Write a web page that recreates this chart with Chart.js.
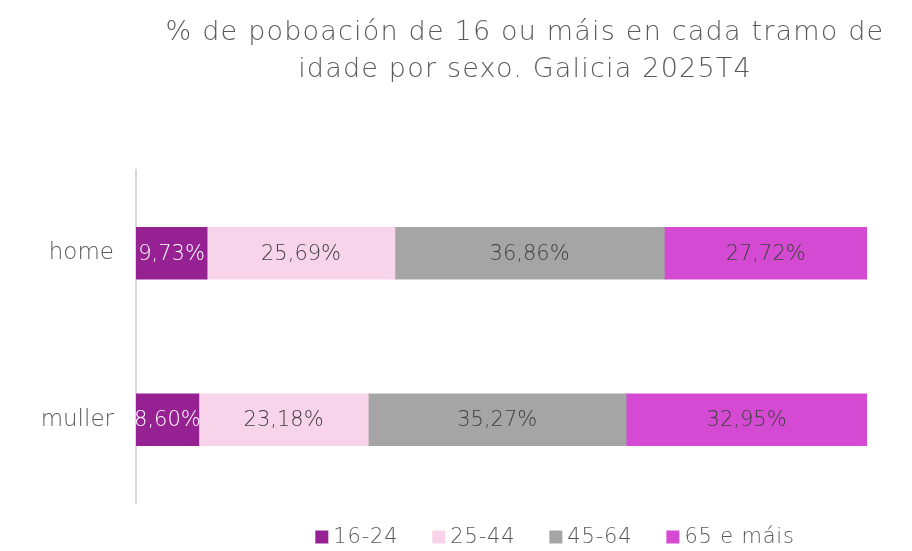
<!DOCTYPE html>
<html>
<head>
<meta charset="utf-8">
<script src="https://cdn.jsdelivr.net/npm/chart.js@4/dist/chart.umd.min.js"></script>
<style>
  html, body { margin: 0; padding: 0; background: #fff; }
  #wrap { width: 912px; height: 551px; }
</style>
</head>
<body>
<div id="wrap"><canvas id="chart" width="912" height="551"></canvas></div>
<script>
// Data
const categories = ['home', 'muller'];
const seriesNames = ['16-24', '25-44', '45-64', '65 e máis'];
const values1624 = [9.73, 8.60];
const values2544 = [25.69, 23.18];
const values4564 = [36.86, 35.27];
const values65 = [27.72, 32.95];
const titleLines = ['% de poboación de 16 ou máis en cada tramo de', 'idade por sexo. Galicia 2025T4'];

const colors = ['#952193', '#F8D4EA', '#A5A5A5', '#D54AD3'];
const labelColors = ['#ffffff', '#404040', '#404040', '#404040'];
const fontFamily = "'DejaVu Sans', sans-serif";

// Format value as 9,73%
const formatValue = (value) => value.toFixed(2).replace('.', ',') + '%';

// Title drawn over the plot area
const titlePlugin = {
    id: 'customTitle',
    afterDraw(chart) {
        const ctx = chart.ctx;
        ctx.save();
        ctx.font = '300 27px ' + fontFamily;
        ctx.letterSpacing = '1.2px';
        ctx.fillStyle = '#595959';
        ctx.textAlign = 'center';
        ctx.textBaseline = 'middle';
        titleLines.forEach((line, i) => ctx.fillText(line, 525, 33 + i * 37));
        ctx.restore();
    }
};

// Legend drawn below the plot
const legendPlugin = {
    id: 'customLegend',
    afterDraw(chart) {
        const ctx = chart.ctx;
        const box = 13, gapText = 5, gapItem = 34;
        ctx.save();
        ctx.font = '300 21px ' + fontFamily;
        ctx.letterSpacing = '0.8px';
        ctx.textBaseline = 'middle';
        const items = chart.data.datasets.map(ds => ({
            text: ds.label, color: ds.backgroundColor, w: ctx.measureText(ds.label).width
        }));
        const total = items.reduce((s, it) => s + box + gapText + it.w, 0) + gapItem * (items.length - 1);
        let x = 555 - total / 2;
        const y = 537;
        items.forEach(it => {
            ctx.fillStyle = it.color;
            ctx.fillRect(x, y - box / 2, box, box);
            x += box + gapText;
            ctx.fillStyle = '#595959';
            ctx.fillText(it.text, x, y + 1);
            x += it.w + gapItem;
        });
        ctx.restore();
    }
};

// Value labels inside the bars
const valueLabels = {
    id: 'valueLabels',
    afterDatasetsDraw(chart) {
        const ctx = chart.ctx;
        ctx.save();
        ctx.font = '300 21px ' + fontFamily;
        ctx.textAlign = 'center';
        ctx.textBaseline = 'middle';
        chart.data.datasets.forEach((ds, i) => {
            chart.getDatasetMeta(i).data.forEach((bar, j) => {
                const cx = (bar.x + bar.base) / 2;
                ctx.fillStyle = labelColors[i];
                ctx.fillText(formatValue(ds.data[j]), cx, bar.y + 1);
            });
        });
        ctx.restore();
    }
};

const datasets = [values1624, values2544, values4564, values65].map((vals, i) => ({
    label: seriesNames[i],
    data: vals,
    backgroundColor: colors[i],
    barThickness: 52
}));

new Chart(document.getElementById('chart').getContext('2d'), {
    type: 'bar',
    data: { labels: categories, datasets: datasets },
    options: {
        indexAxis: 'y',
        responsive: false,
        animation: false,
        layout: { padding: { top: 170, right: 45, bottom: 48, left: 0 } },
        plugins: {
            title: { display: false },
            tooltip: { enabled: false },
            legend: { display: false }
        },
        scales: {
            x: {
                stacked: true,
                min: 0,
                max: 100,
                display: false
            },
            y: {
                stacked: true,
                grid: { display: false },
                border: { display: true, color: '#D9D9D9', width: 2 },
                ticks: {
                    color: '#595959',
                    padding: 14,
                    font: { family: fontFamily, size: 23, weight: '300' }
                },
                afterFit(scale) { scale.width = 136; }
            }
        }
    },
    plugins: [titlePlugin, legendPlugin, valueLabels]
});
</script>
</body>
</html>
